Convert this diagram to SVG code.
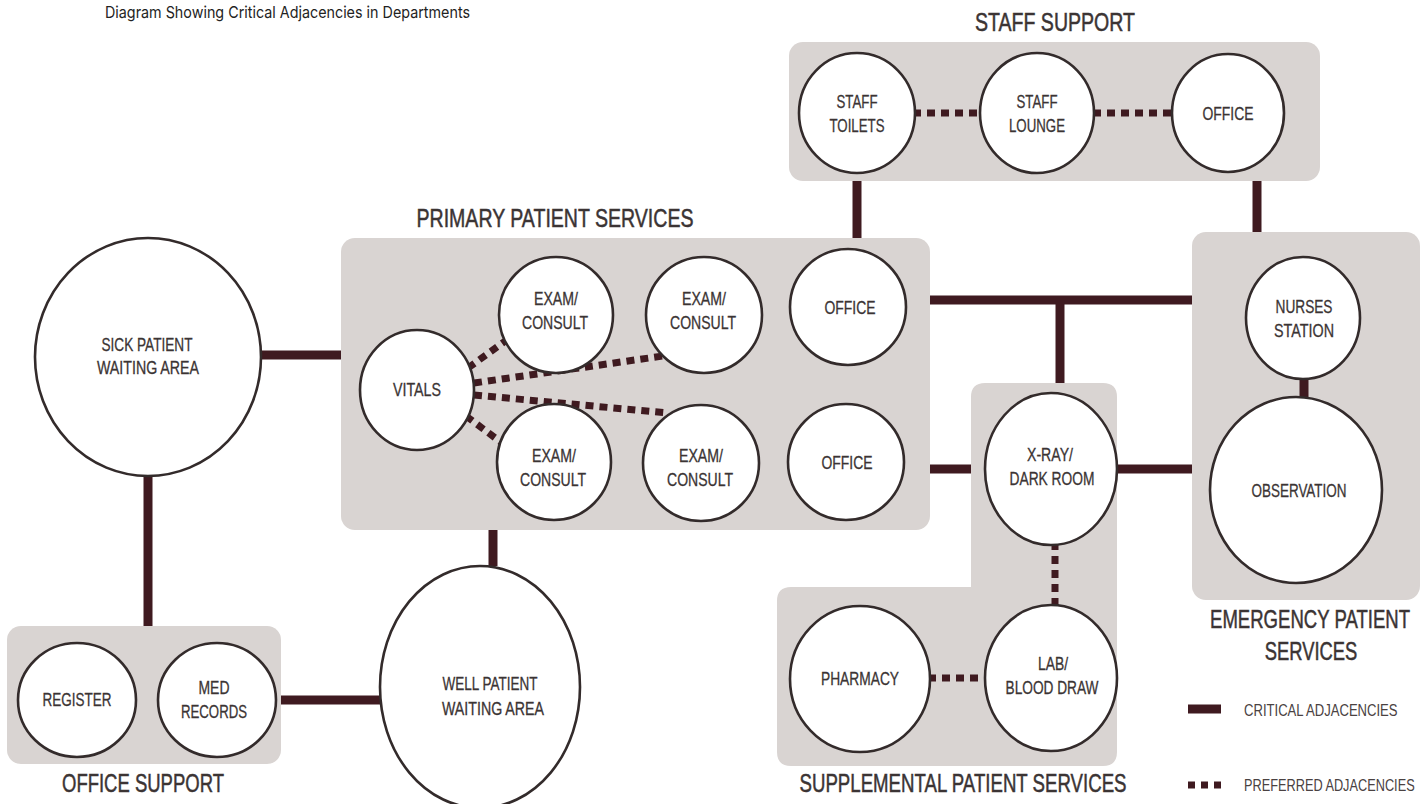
<svg xmlns="http://www.w3.org/2000/svg" width="1426" height="804" viewBox="0 0 1426 804">
<style>
.box{fill:#d9d4d2}
.n{fill:#fff;stroke:#332b2b;stroke-width:2.6}
.t{font-family:"Liberation Sans",Arial,sans-serif;font-size:18.5px;fill:#3b3434;stroke:#3b3434;stroke-width:0.3;text-anchor:middle}
.h{font-family:"Liberation Sans",Arial,sans-serif;font-size:26px;fill:#3b3434;stroke:#3b3434;stroke-width:0.5;text-anchor:middle}
.lg{font-family:"Liberation Sans",Arial,sans-serif;font-size:17px;fill:#4a4242}
.c{stroke:#3f1a20;stroke-width:9;fill:none}
.d{stroke:#3f1a20;stroke-width:7;fill:none;stroke-dasharray:8 6}
</style>
<rect width="1426" height="804" fill="#fff"/>
<text x="105" y="18" font-family="Inter,'Liberation Sans',sans-serif" font-size="16.5" fill="#222" textLength="365" lengthAdjust="spacingAndGlyphs">Diagram Showing Critical Adjacencies in Departments</text>

<g id="connectors">
<line class="c" x1="262" y1="355" x2="341" y2="355"/>
<line class="c" x1="148" y1="476" x2="148" y2="626"/>
<line class="c" x1="136" y1="700" x2="158" y2="700"/>
<line class="c" x1="281" y1="700" x2="380" y2="700"/>
<line class="c" x1="493" y1="530" x2="493" y2="566"/>
<line class="c" x1="857" y1="181" x2="857" y2="238"/>
<line class="c" x1="1257" y1="181" x2="1257" y2="232"/>
<line class="c" x1="930" y1="300" x2="1192" y2="300"/>
<line class="c" x1="1060" y1="300" x2="1060" y2="383"/>
<line class="c" x1="930" y1="469" x2="971" y2="469"/>
<line class="c" x1="1117" y1="469" x2="1192" y2="469"/>
</g>

<g id="staff-support">
<text class="h" x="1055" y="31" textLength="160" lengthAdjust="spacingAndGlyphs">STAFF SUPPORT</text>
<rect class="box" x="789" y="42" width="531" height="139" rx="14"/>
</g>
<g id="primary-patient-services">
<text class="h" x="555" y="227" textLength="277" lengthAdjust="spacingAndGlyphs">PRIMARY PATIENT SERVICES</text>
<rect class="box" x="341" y="238" width="589" height="292" rx="14"/>
</g>
<g id="emergency-patient-services">
<rect class="box" x="1192" y="232" width="228" height="368" rx="14"/>
<text class="h" transform="translate(1310,628) scale(0.714,1)">EMERGENCY PATIENT</text>
<text class="h" transform="translate(1311,660) scale(0.707,1)">SERVICES</text>
</g>
<g id="supplemental-patient-services">
<path class="box" d="M985,383 H1103 Q1117,383 1117,397 V752 Q1117,766 1103,766 H791 Q777,766 777,752 V601 Q777,587 791,587 H971 V397 Q971,383 985,383 Z"/>
<text class="h" x="963" y="792" textLength="327" lengthAdjust="spacingAndGlyphs">SUPPLEMENTAL PATIENT SERVICES</text>
</g>
<g id="office-support">
<rect class="box" x="7" y="626" width="274" height="138" rx="14"/>
<text class="h" x="143" y="792" textLength="162" lengthAdjust="spacingAndGlyphs">OFFICE SUPPORT</text>
</g>

<g id="connectors-inner">
<line class="c" x1="1304" y1="370" x2="1304" y2="400"/>
<line class="d" x1="913" y1="113" x2="981" y2="113"/>
<line class="d" x1="1093" y1="113" x2="1173" y2="113"/>
<line class="d" x1="468" y1="368" x2="508" y2="339"/>
<line class="d" x1="474" y1="383" x2="670" y2="355"/>
<line class="d" x1="474" y1="395" x2="668" y2="413"/>
<line class="d" x1="466" y1="416" x2="506" y2="446"/>
<line class="d" x1="1055" y1="542" x2="1055" y2="608"/>
<line class="d" x1="928" y1="678" x2="987" y2="678"/>
</g>

<g id="staff-toilets"><ellipse class="n" cx="857" cy="113" rx="58" ry="60"/><text class="t" x="857" y="108" textLength="41" lengthAdjust="spacingAndGlyphs">STAFF</text><text class="t" x="857" y="132" textLength="55" lengthAdjust="spacingAndGlyphs">TOILETS</text></g>
<g id="staff-lounge"><ellipse class="n" cx="1037" cy="113" rx="57" ry="60"/><text class="t" x="1037" y="108" textLength="41" lengthAdjust="spacingAndGlyphs">STAFF</text><text class="t" x="1037" y="132" textLength="56" lengthAdjust="spacingAndGlyphs">LOUNGE</text></g>
<g id="staff-office"><ellipse class="n" cx="1228" cy="113" rx="56" ry="59"/><text class="t" x="1228" y="120" textLength="51" lengthAdjust="spacingAndGlyphs">OFFICE</text></g>

<g id="sick-patient-waiting"><ellipse class="n" cx="148" cy="357" rx="113" ry="119"/><text class="t" x="147" y="351" textLength="91" lengthAdjust="spacingAndGlyphs">SICK PATIENT</text><text class="t" x="148" y="374" textLength="102" lengthAdjust="spacingAndGlyphs">WAITING AREA</text></g>

<g id="vitals"><ellipse class="n" cx="417" cy="390" rx="57" ry="60"/><text class="t" x="417" y="396" textLength="48" lengthAdjust="spacingAndGlyphs">VITALS</text></g>
<g id="exam-1"><ellipse class="n" cx="556" cy="315" rx="57" ry="58"/><text class="t" x="556" y="305" textLength="44" lengthAdjust="spacingAndGlyphs">EXAM/</text><text class="t" x="555" y="329" textLength="66" lengthAdjust="spacingAndGlyphs">CONSULT</text></g>
<g id="exam-2"><ellipse class="n" cx="704" cy="315" rx="58" ry="58"/><text class="t" x="704" y="305" textLength="44" lengthAdjust="spacingAndGlyphs">EXAM/</text><text class="t" x="703" y="329" textLength="66" lengthAdjust="spacingAndGlyphs">CONSULT</text></g>
<g id="office-1"><ellipse class="n" cx="848" cy="307" rx="58" ry="58"/><text class="t" x="850" y="314" textLength="51" lengthAdjust="spacingAndGlyphs">OFFICE</text></g>
<g id="exam-3"><ellipse class="n" cx="554" cy="462" rx="57" ry="58"/><text class="t" x="554" y="462" textLength="44" lengthAdjust="spacingAndGlyphs">EXAM/</text><text class="t" x="553" y="486" textLength="66" lengthAdjust="spacingAndGlyphs">CONSULT</text></g>
<g id="exam-4"><ellipse class="n" cx="701" cy="463" rx="58" ry="58"/><text class="t" x="701" y="462" textLength="44" lengthAdjust="spacingAndGlyphs">EXAM/</text><text class="t" x="700" y="486" textLength="66" lengthAdjust="spacingAndGlyphs">CONSULT</text></g>
<g id="office-2"><ellipse class="n" cx="846" cy="462" rx="58" ry="58"/><text class="t" x="847" y="469" textLength="51" lengthAdjust="spacingAndGlyphs">OFFICE</text></g>

<g id="nurses-station"><ellipse class="n" cx="1303" cy="318" rx="57" ry="61"/><text class="t" x="1304" y="313" textLength="57" lengthAdjust="spacingAndGlyphs">NURSES</text><text class="t" x="1304" y="337" textLength="60" lengthAdjust="spacingAndGlyphs">STATION</text></g>
<g id="observation"><ellipse class="n" cx="1296" cy="490" rx="86" ry="93"/><text class="t" x="1299" y="497" textLength="95" lengthAdjust="spacingAndGlyphs">OBSERVATION</text></g>

<g id="xray"><ellipse class="n" cx="1051" cy="469" rx="66" ry="76"/><text class="t" x="1050" y="461" textLength="46" lengthAdjust="spacingAndGlyphs">X-RAY/</text><text class="t" x="1052" y="485" textLength="85" lengthAdjust="spacingAndGlyphs">DARK ROOM</text></g>
<g id="lab"><ellipse class="n" cx="1051" cy="678" rx="66" ry="73"/><text class="t" x="1053" y="670" textLength="30" lengthAdjust="spacingAndGlyphs">LAB/</text><text class="t" x="1052" y="694" textLength="93" lengthAdjust="spacingAndGlyphs">BLOOD DRAW</text></g>
<g id="pharmacy"><ellipse class="n" cx="860" cy="679" rx="70" ry="73"/><text class="t" x="860" y="685" textLength="78" lengthAdjust="spacingAndGlyphs">PHARMACY</text></g>

<g id="register"><ellipse class="n" cx="77" cy="700" rx="59" ry="57"/><text class="t" x="77" y="706" textLength="69" lengthAdjust="spacingAndGlyphs">REGISTER</text></g>
<g id="med-records"><ellipse class="n" cx="217" cy="700" rx="59" ry="57"/><text class="t" x="214" y="694" textLength="31" lengthAdjust="spacingAndGlyphs">MED</text><text class="t" x="214" y="718" textLength="66" lengthAdjust="spacingAndGlyphs">RECORDS</text></g>
<g id="well-patient-waiting"><ellipse class="n" cx="480" cy="687" rx="100" ry="121"/><text class="t" x="490" y="690" textLength="95" lengthAdjust="spacingAndGlyphs">WELL PATIENT</text><text class="t" x="493" y="715" textLength="102" lengthAdjust="spacingAndGlyphs">WAITING AREA</text></g>

<g id="legend">
<line class="c" x1="1188" y1="709" x2="1221" y2="709"/>
<text class="lg" transform="translate(1244,716) scale(0.77,1)">CRITICAL ADJACENCIES</text>
<line stroke="#3f1a20" stroke-width="7" stroke-dasharray="7 6" x1="1188" y1="785" x2="1221" y2="785"/>
<text class="lg" transform="translate(1244,791) scale(0.75,1)">PREFERRED ADJACENCIES</text>
</g>
</svg>
